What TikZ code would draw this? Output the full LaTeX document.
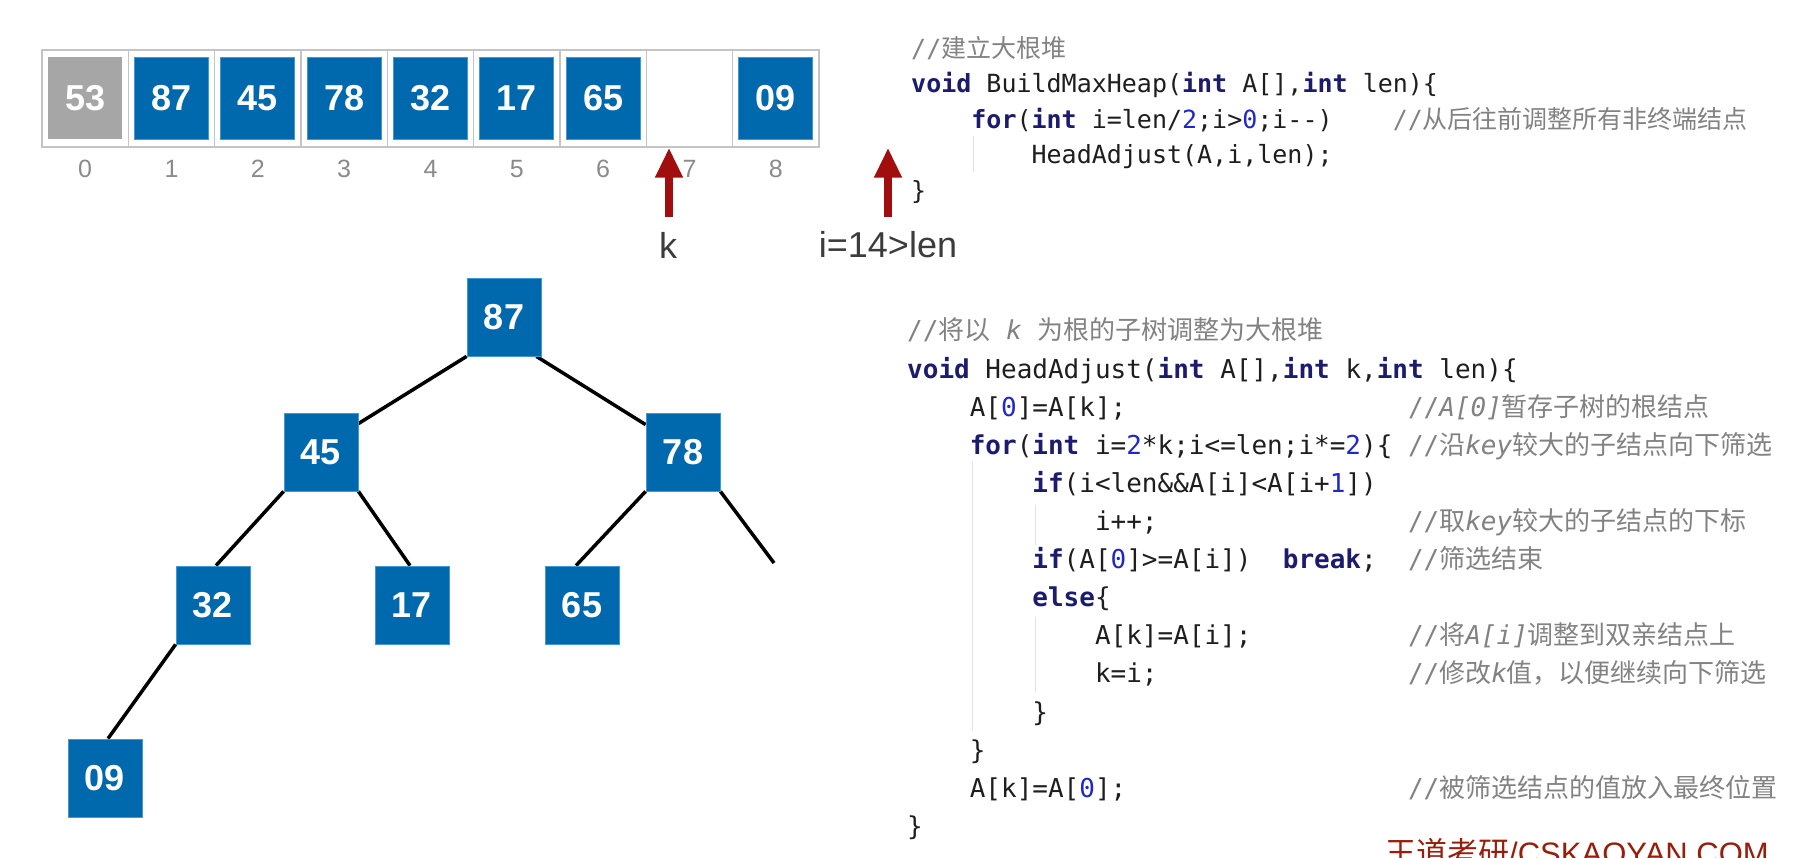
\documentclass[tikz,border=0pt]{standalone}
\usepackage{fontspec}
\usetikzlibrary{arrows.meta,calc,backgrounds}
\setmainfont{Liberation Sans}
\newfontfamily\codefont{DejaVu Sans Mono}
\newfontfamily\cjkfont{Noto Sans CJK SC}
\definecolor{hblue}{RGB}{0,104,172}
\definecolor{hborder}{RGB}{70,150,210}
\definecolor{hgrey}{RGB}{166,166,166}
\definecolor{cellline}{RGB}{196,196,196}
\definecolor{idxgrey}{RGB}{138,138,138}
\definecolor{arrred}{RGB}{160,14,14}
\definecolor{labgrey}{RGB}{60,60,60}
\definecolor{kwcol}{RGB}{28,28,110}
\definecolor{numcol}{RGB}{30,40,200}
\definecolor{cmcol}{RGB}{130,130,130}
\definecolor{codetext}{RGB}{30,30,30}
\definecolor{guidecol}{RGB}{226,226,226}
\definecolor{wmcol}{RGB}{150,30,10}
\newcommand{\kwd}[1]{{\bfseries\color{kwcol}#1}}
\newcommand{\numb}[1]{{\color{numcol}#1}}
\newcommand{\cjk}[1]{{\cjkfont #1}}
\newcommand{\itc}[1]{{\itshape #1}}
\tikzset{
  valbox/.style={rectangle, minimum width=74pt, minimum height=82pt, inner sep=0pt, text=white, font=\fontsize{36}{40}\selectfont\bfseries},
  bluebox/.style={valbox, fill=hblue, draw=hborder, line width=0.8pt},
  greybox/.style={valbox, fill=hgrey},
  cellbox/.style={rectangle, draw=cellline, line width=1.4pt, minimum width=86.33pt, minimum height=97pt, inner sep=0pt},
  idx/.style={text=idxgrey, font=\fontsize{25}{30}\selectfont, inner sep=0pt},
  treebox/.style={bluebox, minimum height=78pt},
  edge/.style={draw=black, line width=3.5pt},
  ptr/.style={draw=arrred, line width=8pt, -{Triangle[width=26pt,length=30pt]}},
  lab/.style={text=labgrey, font=\fontsize{36}{40}\selectfont, inner sep=0pt},
  codeA/.style={anchor=base west, inner sep=0pt, text=codetext, font=\codefont\fontsize{25}{30}\selectfont},
  codeB/.style={anchor=base west, inner sep=0pt, text=codetext, font=\codefont\fontsize{26}{31}\selectfont},
  cmA/.style={codeA, text=cmcol},
  cmB/.style={codeB, text=cmcol},
  guideline/.style={draw=guidecol, line width=1pt},
}
\begin{document}
\begin{tikzpicture}[x=1pt, y=-1pt]
\useasboundingbox (0,0) rectangle (1809,858);
\clip (0,0) rectangle (1809,858);

% ---- array ----
\foreach \i in {0,...,8} {
  \node[cellbox] (cell\i) at ({85.17+86.33*\i},98.5) {};
  \node[idx] (idx\i) at ({85.17+86.33*\i},169) {\i};
}
\node[greybox] (v0) at (cell0) {53};
\foreach \i/\v in {1/87,2/45,3/78,4/32,5/17,6/65,8/09} {
  \node[bluebox] (v\i) at (cell\i) {\v};
}

% ---- pointers ----
\coordinate (kbase) at (669,217);
\coordinate (ktip) at (kbase |- cell7.south);
\draw[ptr] (kbase) -- (ktip);
\coordinate (ibase) at (888,217);
\coordinate (itip) at (ibase |- cell8.south);
\draw[ptr] (ibase) -- (itip);
\node[lab] (klab) at (668,245) {k};
\node[lab] (ilab) at (888,245) {i=14>len};

% ---- tree ----
\node[treebox] (t87) at (504,317) {87};
\node[treebox] (t45) at (321,452) {45};
\node[treebox] (t78) at (683,452) {78};
\node[treebox] (t32) at (213,605) {32};
\node[treebox] (t17) at (412,605) {17};
\node[treebox] (t65) at (582,605) {65};
\node[treebox] (t09) at (105,778) {09};
\coordinate (dangle) at (774,563);
\begin{scope}[on background layer]
  \draw[edge] (t87.south west) -- ([yshift=-11pt]t45.north east);
  \draw[edge] ([xshift=-5pt]t87.south east) -- ([yshift=-12pt]t78.north west);
  \draw[edge] (t45.south west) -- ([xshift=3pt]t32.north);
  \draw[edge] (t45.south east) -- ([xshift=-2pt]t17.north);
  \draw[edge] (t78.south west) -- ([xshift=-6pt]t65.north);
  \draw[edge] (t78.south east) -- (dangle);
  \draw[edge] (t32.south west) -- ([xshift=3pt]t09.north);
\end{scope}

% ---- code block 1 ----
\draw[guideline] (973,136) -- (973,172);
\node[cmA] (a1) at (911,57.5) {//\cjk{建立大根堆}};
\node[codeA] (a2) at (911,93) {\kwd{void} BuildMaxHeap(\kwd{int} A[],\kwd{int} len)\{};
\node[codeA] (a3) at (971.2,128.5) {\kwd{for}(\kwd{int} i=len/\numb{2};i>\numb{0};i\mbox{-}\mbox{-})};
\node[cmA] (a3c) at (1392.6,128.5) {//\cjk{从后往前调整所有非终端结点}};
\node[codeA] (a4) at (1031.4,164) {HeadAdjust(A,i,len);};
\node[codeA] (a5) at (911,199.5) {\}};

% ---- code block 2 ----
\draw[guideline] (972,462) -- (972,730);
\draw[guideline] (1035,505) -- (1035,545);
\draw[guideline] (1035,617) -- (1035,692);
\node[cmB] (b1) at (907,340) {//\cjk{将以} \itc{k} \cjk{为根的子树调整为大根堆}};
\node[codeB] (b2) at (907,378.1) {\kwd{void} HeadAdjust(\kwd{int} A[],\kwd{int} k,\kwd{int} len)\{};
\node[codeB] (b3) at (969.6,416.2) {A[\numb{0}]=A[k];};
\node[cmB] (b3c) at (1407.8,416.2) {//\itc{A[0]}\cjk{暂存子树的根结点}};
\node[codeB] (b4) at (969.6,454.3) {\kwd{for}(\kwd{int} i=\numb{2}*k;i<=len;i*=\numb{2})\{};
\node[cmB] (b4c) at (1407.8,454.3) {//\cjk{沿}\itc{key}\cjk{较大的子结点向下筛选}};
\node[codeB] (b5) at (1032.2,492.4) {\kwd{if}(i<len\&\&A[i]<A[i+\numb{1}])};
\node[codeB] (b6) at (1094.8,530.5) {i++;};
\node[cmB] (b6c) at (1407.8,530.5) {//\cjk{取}\itc{key}\cjk{较大的子结点的下标}};
\node[codeB] (b7) at (1032.2,568.6) {\kwd{if}(A[\numb{0}]>=A[i])\ \ \kwd{break};};
\node[cmB] (b7c) at (1407.8,568.6) {//\cjk{筛选结束}};
\node[codeB] (b8) at (1032.2,606.7) {\kwd{else}\{};
\node[codeB] (b9) at (1094.8,644.8) {A[k]=A[i];};
\node[cmB] (b9c) at (1407.8,644.8) {//\cjk{将}\itc{A[i]}\cjk{调整到双亲结点上}};
\node[codeB] (b10) at (1094.8,682.9) {k=i;};
\node[cmB] (b10c) at (1407.8,682.9) {//\cjk{修改}\itc{k}\cjk{值，以便继续向下筛选}};
\node[codeB] (b11) at (1032.2,721) {\}};
\node[codeB] (b12) at (969.6,759.1) {\}};
\node[codeB] (b13) at (969.6,797.2) {A[k]=A[\numb{0}];};
\node[cmB] (b13c) at (1407.8,797.2) {//\cjk{被筛选结点的值放入最终位置}};
\node[codeB] (b14) at (907,835.3) {\}};

% ---- watermark ----
\node[anchor=base west, inner sep=0pt, text=wmcol, font=\fontsize{31}{36}\selectfont] (wm) at (1385,864) {\cjk{王道考研}/CSKAOYAN.COM};
\end{tikzpicture}
\end{document}
